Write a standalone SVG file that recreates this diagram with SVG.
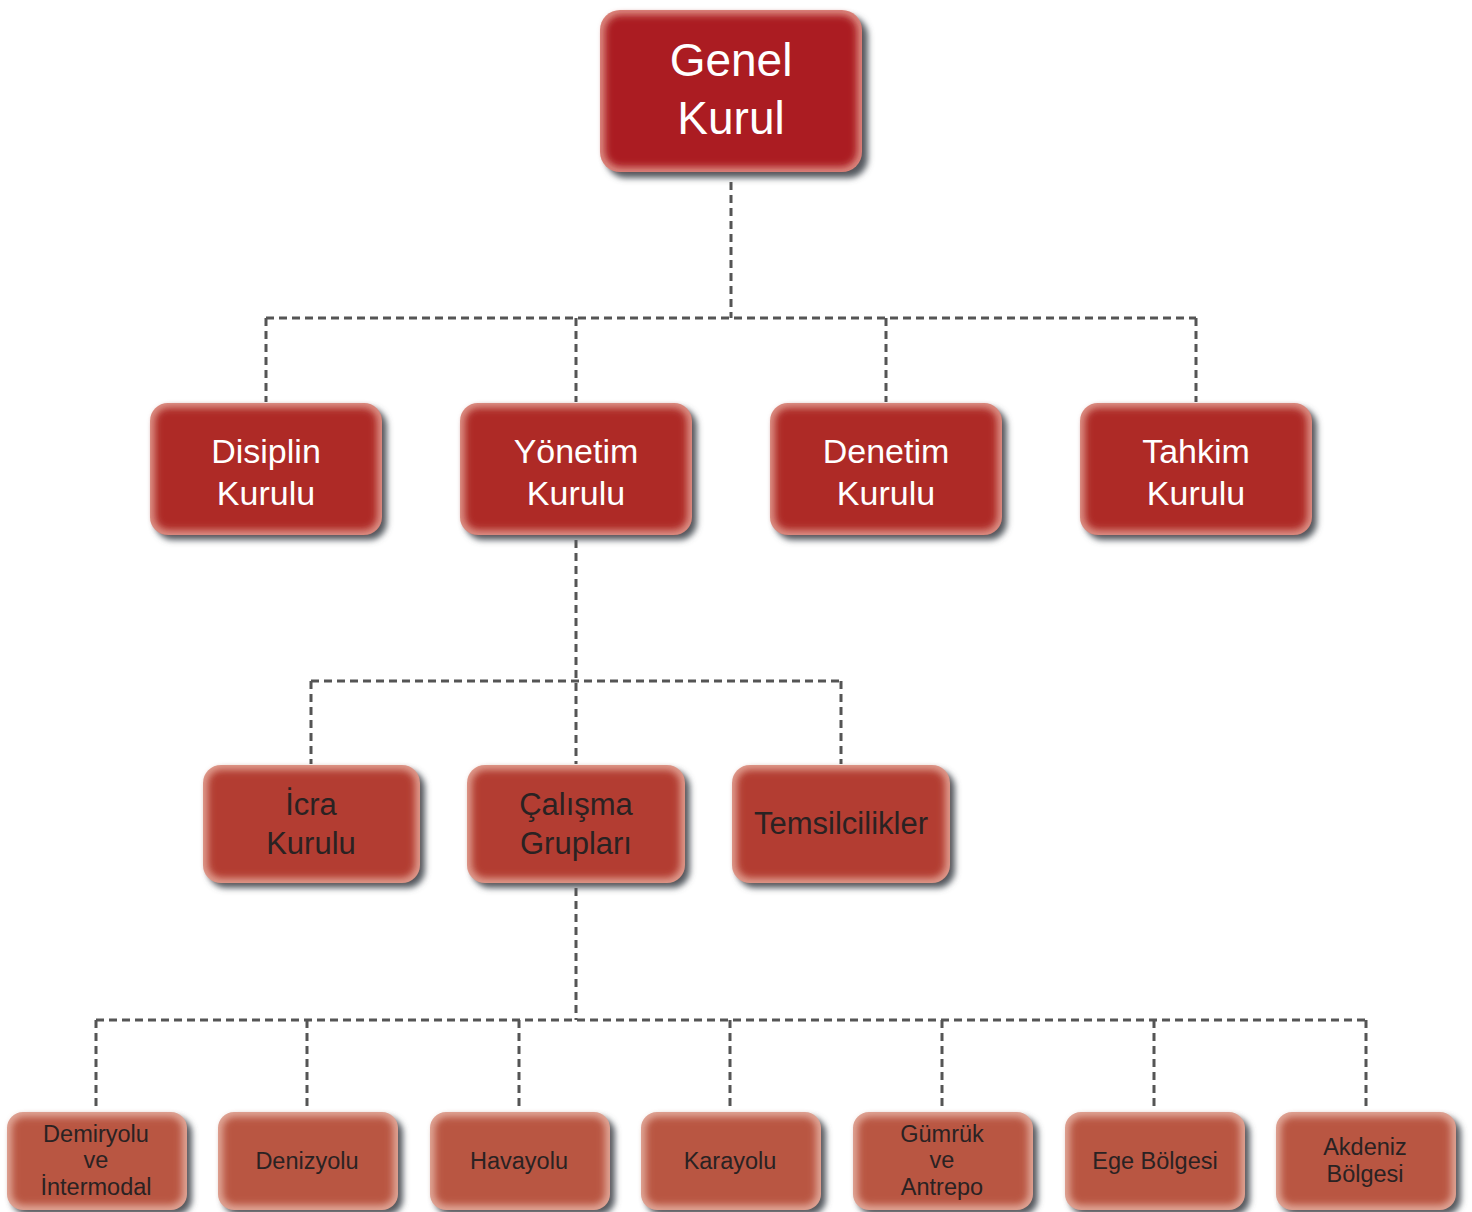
<svg xmlns="http://www.w3.org/2000/svg" width="1472" height="1212" viewBox="0 0 1472 1212">
<defs>
<filter id="sh" x="-20%" y="-20%" width="140%" height="140%"><feGaussianBlur stdDeviation="3"/></filter>
<filter id="inner" x="-10%" y="-10%" width="120%" height="120%"><feGaussianBlur stdDeviation="3.5"/></filter>
</defs>
<style>
text{font-family:"Liberation Sans",Arial,sans-serif;text-anchor:middle}
.conn line{stroke:#555;stroke-width:3;stroke-dasharray:8 5;fill:none}
.shadow{fill:#555a60;filter:url(#sh)}
.inner{filter:url(#inner)}
.t1{fill:#fff;font-size:46px}
.t2{fill:#fff;font-size:34px}
.t3{fill:#2a2222;font-size:31px}
.t4{fill:#2a2222;font-size:23.5px}
</style>
<rect width="1472" height="1212" fill="#fff"/>
<g class="conn">
<line x1="731" y1="182" x2="731" y2="318"/>
<line x1="266" y1="318" x2="1196" y2="318"/>
<line x1="266" y1="318" x2="266" y2="402"/>
<line x1="576" y1="318" x2="576" y2="402"/>
<line x1="886" y1="318" x2="886" y2="402"/>
<line x1="1196" y1="318" x2="1196" y2="402"/>
<line x1="576" y1="540" x2="576" y2="764"/>
<line x1="311" y1="681" x2="841" y2="681"/>
<line x1="311" y1="681" x2="311" y2="764"/>
<line x1="841" y1="681" x2="841" y2="764"/>
<line x1="576" y1="888" x2="576" y2="1020"/>
<line x1="96" y1="1020" x2="1366" y2="1020"/>
<line x1="96" y1="1020" x2="96" y2="1111"/>
<line x1="307" y1="1020" x2="307" y2="1111"/>
<line x1="519" y1="1020" x2="519" y2="1111"/>
<line x1="730" y1="1020" x2="730" y2="1111"/>
<line x1="942" y1="1020" x2="942" y2="1111"/>
<line x1="1154" y1="1020" x2="1154" y2="1111"/>
<line x1="1366" y1="1020" x2="1366" y2="1111"/>
</g>
<g id="genel-kurul">
<rect class="shadow" x="606" y="16" width="262" height="162" rx="20"/>
<rect x="600" y="10" width="262" height="162" rx="20" fill="#dc8a80"/>
<rect class="inner" x="605" y="15" width="252" height="152" rx="16" fill="#ab1f24"/>
<text class="t1" x="731" y="76">Genel</text>
<text class="t1" x="731" y="134">Kurul</text>
</g>
<g id="disiplin-kurulu">
<rect class="shadow" x="155" y="408" width="232" height="132" rx="18"/>
<rect x="150" y="403" width="232" height="132" rx="18" fill="#dc8f84"/>
<rect class="inner" x="155" y="408" width="222" height="122" rx="14" fill="#ae2a27"/>
<text class="t2" x="266" y="463">Disiplin</text>
<text class="t2" x="266" y="505">Kurulu</text>
</g>
<g id="yonetim-kurulu">
<rect class="shadow" x="465" y="408" width="232" height="132" rx="18"/>
<rect x="460" y="403" width="232" height="132" rx="18" fill="#dc8f84"/>
<rect class="inner" x="465" y="408" width="222" height="122" rx="14" fill="#ae2a27"/>
<text class="t2" x="576" y="463">Yönetim</text>
<text class="t2" x="576" y="505">Kurulu</text>
</g>
<g id="denetim-kurulu">
<rect class="shadow" x="775" y="408" width="232" height="132" rx="18"/>
<rect x="770" y="403" width="232" height="132" rx="18" fill="#dc8f84"/>
<rect class="inner" x="775" y="408" width="222" height="122" rx="14" fill="#ae2a27"/>
<text class="t2" x="886" y="463">Denetim</text>
<text class="t2" x="886" y="505">Kurulu</text>
</g>
<g id="tahkim-kurulu">
<rect class="shadow" x="1085" y="408" width="232" height="132" rx="18"/>
<rect x="1080" y="403" width="232" height="132" rx="18" fill="#dc8f84"/>
<rect class="inner" x="1085" y="408" width="222" height="122" rx="14" fill="#ae2a27"/>
<text class="t2" x="1196" y="463">Tahkim</text>
<text class="t2" x="1196" y="505">Kurulu</text>
</g>
<g id="icra-kurulu">
<rect class="shadow" x="208" y="770" width="217" height="118" rx="18"/>
<rect x="203" y="765" width="217" height="118" rx="18" fill="#df9a8c"/>
<rect class="inner" x="208" y="770" width="207" height="108" rx="14" fill="#b33e30"/>
<text class="t3" x="311" y="815">İcra</text>
<text class="t3" x="311" y="854">Kurulu</text>
</g>
<g id="calisma-gruplari">
<rect class="shadow" x="472" y="770" width="218" height="118" rx="18"/>
<rect x="467" y="765" width="218" height="118" rx="18" fill="#df9a8c"/>
<rect class="inner" x="472" y="770" width="208" height="108" rx="14" fill="#b33e30"/>
<text class="t3" x="576" y="815">Çalışma</text>
<text class="t3" x="576" y="854">Grupları</text>
</g>
<g id="temsilcilikler">
<rect class="shadow" x="737" y="770" width="218" height="118" rx="18"/>
<rect x="732" y="765" width="218" height="118" rx="18" fill="#df9a8c"/>
<rect class="inner" x="737" y="770" width="208" height="108" rx="14" fill="#b33e30"/>
<text class="t3" x="841" y="834">Temsilcilikler</text>
</g>
<g id="demiryolu">
<rect class="shadow" x="12" y="1117" width="180" height="98" rx="16"/>
<rect x="7" y="1112" width="180" height="98" rx="16" fill="#e0a596"/>
<rect class="inner" x="12" y="1117" width="170" height="88" rx="12" fill="#b95642"/>
<text class="t4" x="96" y="1142">Demiryolu</text>
<text class="t4" x="96" y="1168">ve</text>
<text class="t4" x="96" y="1195">İntermodal</text>
</g>
<g id="denizyolu">
<rect class="shadow" x="223" y="1117" width="180" height="98" rx="16"/>
<rect x="218" y="1112" width="180" height="98" rx="16" fill="#e0a596"/>
<rect class="inner" x="223" y="1117" width="170" height="88" rx="12" fill="#b95642"/>
<text class="t4" x="307" y="1169">Denizyolu</text>
</g>
<g id="havayolu">
<rect class="shadow" x="435" y="1117" width="180" height="98" rx="16"/>
<rect x="430" y="1112" width="180" height="98" rx="16" fill="#e0a596"/>
<rect class="inner" x="435" y="1117" width="170" height="88" rx="12" fill="#b95642"/>
<text class="t4" x="519" y="1169">Havayolu</text>
</g>
<g id="karayolu">
<rect class="shadow" x="646" y="1117" width="180" height="98" rx="16"/>
<rect x="641" y="1112" width="180" height="98" rx="16" fill="#e0a596"/>
<rect class="inner" x="646" y="1117" width="170" height="88" rx="12" fill="#b95642"/>
<text class="t4" x="730" y="1169">Karayolu</text>
</g>
<g id="gumruk">
<rect class="shadow" x="858" y="1117" width="180" height="98" rx="16"/>
<rect x="853" y="1112" width="180" height="98" rx="16" fill="#e0a596"/>
<rect class="inner" x="858" y="1117" width="170" height="88" rx="12" fill="#b95642"/>
<text class="t4" x="942" y="1142">Gümrük</text>
<text class="t4" x="942" y="1168">ve</text>
<text class="t4" x="942" y="1195">Antrepo</text>
</g>
<g id="ege-bolgesi">
<rect class="shadow" x="1070" y="1117" width="180" height="98" rx="16"/>
<rect x="1065" y="1112" width="180" height="98" rx="16" fill="#e0a596"/>
<rect class="inner" x="1070" y="1117" width="170" height="88" rx="12" fill="#b95642"/>
<text class="t4" x="1155" y="1169">Ege Bölgesi</text>
</g>
<g id="akdeniz-bolgesi">
<rect class="shadow" x="1281" y="1117" width="180" height="98" rx="16"/>
<rect x="1276" y="1112" width="180" height="98" rx="16" fill="#e0a596"/>
<rect class="inner" x="1281" y="1117" width="170" height="88" rx="12" fill="#b95642"/>
<text class="t4" x="1365" y="1155">Akdeniz</text>
<text class="t4" x="1365" y="1182">Bölgesi</text>
</g>
</svg>
